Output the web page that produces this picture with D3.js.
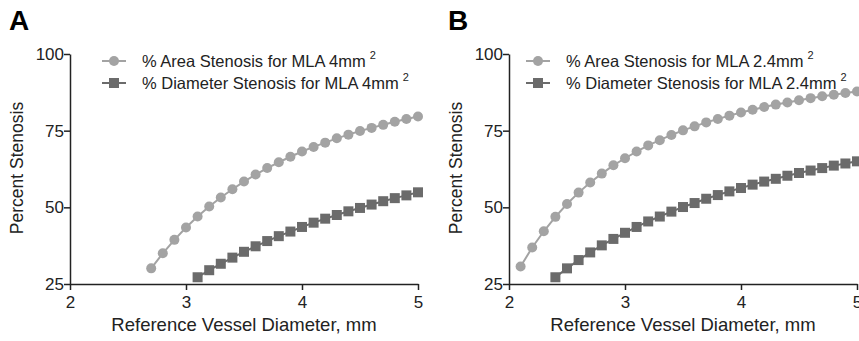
<!DOCTYPE html>
<html lang="en">
<head>
<meta charset="utf-8">
<title>Percent Stenosis vs Reference Vessel Diameter</title>
<script src="https://d3js.org/d3.v7.min.js"></script>
<style>
  body { margin: 0; background: #fff; }
  svg text { font-family: "Liberation Sans", Arial, sans-serif; }
</style>
</head>
<body>
<div id="chart"></div>
<script>
// panel A: MLA 4 mm2
const areaA_x = [2.7,2.8,2.9,3.0,3.1,3.2,3.3,3.4,3.5,3.6,3.7,3.8,3.9,4.0,4.1,4.2,4.3,4.4,4.5,4.6,4.7,4.8,4.9,5.0];
const areaA_y = [30.1,35.0,39.4,43.4,47.0,50.3,53.2,55.9,58.4,60.7,62.8,64.7,66.5,68.2,69.7,71.1,72.5,73.7,74.9,75.9,76.9,77.9,78.8,79.6];
const diamA_x = [3.1,3.2,3.3,3.4,3.5,3.6,3.7,3.8,3.9,4.0,4.1,4.2,4.3,4.4,4.5,4.6,4.7,4.8,4.9,5.0];
const diamA_y = [27.2,29.5,31.6,33.6,35.5,37.3,39.0,40.6,42.1,43.6,45.0,46.3,47.5,48.7,49.8,50.9,52.0,53.0,53.9,54.9];

// panel B: MLA 2.4 mm2
const areaB_x = [2.1,2.2,2.3,2.4,2.5,2.6,2.7,2.8,2.9,3.0,3.1,3.2,3.3,3.4,3.5,3.6,3.7,3.8,3.9,4.0,4.1,4.2,4.3,4.4,4.5,4.6,4.7,4.8,4.9,5.0];
const areaB_y = [30.7,36.9,42.2,46.9,51.1,54.8,58.1,61.0,63.7,66.0,68.2,70.2,71.9,73.6,75.1,76.4,77.7,78.8,79.9,80.9,81.8,82.7,83.5,84.2,84.9,85.6,86.2,86.7,87.3,87.8];
const diamB_x = [2.4,2.5,2.6,2.7,2.8,2.9,3.0,3.1,3.2,3.3,3.4,3.5,3.6,3.7,3.8,3.9,4.0,4.1,4.2,4.3,4.4,4.5,4.6,4.7,4.8,4.9,5.0];
const diamB_y = [27.2,30.1,32.8,35.3,37.6,39.7,41.7,43.6,45.4,47.0,48.6,50.1,51.4,52.8,54.0,55.2,56.3,57.4,58.4,59.3,60.3,61.2,62.0,62.8,63.6,64.3,65.0];

const xTicks = [2, 3, 4, 5];
const yTicks = [25, 50, 75, 100];
const panelLetters = ["A", "B"];
const legendA = ["% Area Stenosis for MLA 4mm", "% Diameter Stenosis for MLA 4mm"];
const legendB = ["% Area Stenosis for MLA 2.4mm", "% Diameter Stenosis for MLA 2.4mm"];

const W = 859, H = 341;
const lightGray = "#a3a3a3", darkGray = "#6b6b6b";

const svg = d3.select("#chart").append("svg")
  .attr("width", W).attr("height", H);

function drawPanel(ox, letter, legend, legX, ax, ay, dx, dy) {
  const g = svg.append("g").attr("transform", `translate(${ox},0)`);
  const x = d3.scaleLinear().domain([2, 5]).range([70, 418]);
  const y = d3.scaleLinear().domain([25, 100]).range([284, 54]);

  g.append("text").attr("x", 9).attr("y", 30)
    .attr("font-size", 28).attr("font-weight", "bold").text(letter);

  const xAxis = g.append("g").attr("transform", "translate(0,284)")
    .call(d3.axisBottom(x).tickValues(xTicks).tickSize(6).tickSizeOuter(0).tickFormat(d3.format("d")));
  const yAxis = g.append("g").attr("transform", "translate(70,0)")
    .call(d3.axisLeft(y).tickValues(yTicks).tickSize(6).tickSizeOuter(0).tickFormat(d3.format("d")));
  [xAxis, yAxis].forEach(a => {
    a.select(".domain").attr("stroke", "#222").attr("stroke-width", 1.5);
    a.selectAll(".tick line").attr("stroke", "#222").attr("stroke-width", 1.5);
    a.selectAll(".tick text").attr("font-size", 17).attr("fill", "#222")
      .style("font-family", "'Liberation Sans', Arial, sans-serif");
  });
  xAxis.selectAll(".tick text").attr("dy", "0.9em");
  yAxis.selectAll(".tick text").attr("x", -6);

  g.append("text").attr("x", 244).attr("y", 331).attr("text-anchor", "middle")
    .attr("font-size", 18.5).attr("fill", "#222").text("Reference Vessel Diameter, mm");
  g.append("text").attr("transform", "translate(23,168) rotate(-90)")
    .attr("text-anchor", "middle").attr("font-size", 17.5).attr("fill", "#222").text("Percent Stenosis");

  const line = d3.line().x(d => x(d[0])).y(d => y(d[1]));
  const areaPts = d3.zip(ax, ay), diamPts = d3.zip(dx, dy);

  g.append("path").datum(areaPts).attr("d", line)
    .attr("fill", "none").attr("stroke", lightGray).attr("stroke-width", 2);
  g.selectAll(".ca").data(areaPts).join("circle")
    .attr("cx", d => x(d[0])).attr("cy", d => y(d[1])).attr("r", 5)
    .attr("fill", lightGray);

  g.append("path").datum(diamPts).attr("d", line)
    .attr("fill", "none").attr("stroke", darkGray).attr("stroke-width", 2);
  g.selectAll(".sq").data(diamPts).join("rect")
    .attr("x", d => x(d[0]) - 5).attr("y", d => y(d[1]) - 5)
    .attr("width", 10).attr("height", 10).attr("fill", darkGray);

  // legend
  const lg = g.append("g").attr("transform", `translate(${legX},0)`);
  const rows = [{c: lightGray, shape: "circle", t: legend[0], y: 61},
                {c: darkGray, shape: "rect", t: legend[1], y: 83}];
  rows.forEach(r => {
    lg.append("line").attr("x1", 0).attr("x2", 24).attr("y1", r.y).attr("y2", r.y)
      .attr("stroke", r.c).attr("stroke-width", 2);
    if (r.shape === "circle")
      lg.append("circle").attr("cx", 12).attr("cy", r.y).attr("r", 5).attr("fill", r.c);
    else
      lg.append("rect").attr("x", 7).attr("y", r.y - 5).attr("width", 10).attr("height", 10).attr("fill", r.c);
    const t = lg.append("text").attr("x", 40).attr("y", r.y + 6)
      .attr("font-size", 16.5).attr("fill", "#222").text(r.t);
    t.append("tspan").attr("dx", 4).attr("dy", -8).attr("font-size", 11).text("2");
  });
}

drawPanel(0, panelLetters[0], legendA, 102, areaA_x, areaA_y, diamA_x, diamA_y);
drawPanel(439, panelLetters[1], legendB, 87, areaB_x, areaB_y, diamB_x, diamB_y);
</script>
</body>
</html>
